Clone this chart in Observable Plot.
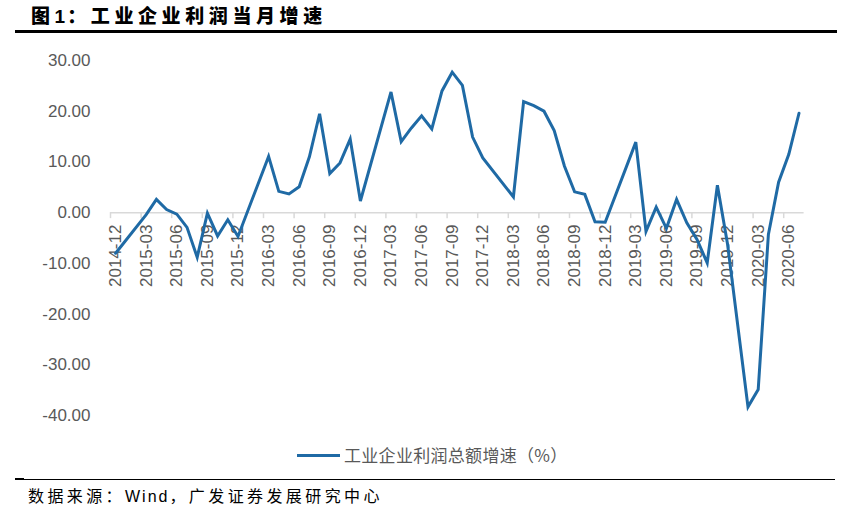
<!DOCTYPE html>
<html>
<head>
<meta charset="utf-8">
<script src="https://cdn.jsdelivr.net/npm/d3@7"></script>
<script src="https://cdn.jsdelivr.net/npm/@observablehq/plot@0.6"></script>
<style>
  html, body { margin: 0; padding: 0; background: #fff; }
  body { width: 861px; height: 518px; position: relative; overflow: hidden; font-family: "Liberation Sans", Arial, sans-serif; }
  #title { position: absolute; left: 31px; top: 3px; font-family: "Noto Sans CJK SC", sans-serif; font-weight: 900; font-size: 19px; letter-spacing: 4.6px; color: #000; line-height: 24px; white-space: nowrap; }
  #title .num { font-family: "Liberation Sans", Arial, sans-serif; font-weight: bold; letter-spacing: 2px; }
  #rule-top { position: absolute; left: 15px; top: 30px; width: 822px; height: 2.5px; background: #000; }
  #chart { position: absolute; left: 0; top: 40px; }
  #legend { position: absolute; left: 297px; top: 443px; height: 24px; display: flex; align-items: center; white-space: nowrap; }
  #legend .sw { width: 43px; height: 3px; background: #1f6aa5; margin-right: 4px; }
  #legend .lab { font-family: "Noto Sans CJK SC", sans-serif; font-size: 17px; letter-spacing: 0.3px; color: #595959; line-height: 24px; }
  #rule-bot { position: absolute; left: 15px; top: 479px; width: 820px; height: 1px; background: #000; }
  #rule-bot2 { position: absolute; left: 15px; top: 478px; width: 9px; height: 2px; background: #000; }
  #source { position: absolute; left: 28px; top: 484px; font-family: "Noto Sans CJK SC", sans-serif; font-size: 16px; letter-spacing: 3.4px; color: #000; line-height: 22px; white-space: nowrap; }
  #source .lat { font-family: "Liberation Sans", Arial, sans-serif; letter-spacing: 2px; }
</style>
</head>
<body>
<div id="title">图<span class="num">1</span>：工业企业利润当月增速</div>
<div id="rule-top"></div>
<div id="chart"></div>
<div id="legend"><div class="sw"></div><div class="lab">工业企业利润总额增速（%）</div></div>
<div id="rule-bot2"></div>
<div id="rule-bot"></div>
<div id="source">数据来源：<span class="lat">Wind</span>，广发证券发展研究中心</div>
<script>
// Months with data (Jan / Jan-Feb releases absent except 2020-02)
const months = [
  "2014-12",
  "2015-03","2015-04","2015-05","2015-06","2015-07","2015-08","2015-09","2015-10","2015-11","2015-12",
  "2016-03","2016-04","2016-05","2016-06","2016-07","2016-08","2016-09","2016-10","2016-11","2016-12",
  "2017-03","2017-04","2017-05","2017-06","2017-07","2017-08","2017-09","2017-10","2017-11","2017-12",
  "2018-03","2018-04","2018-05","2018-06","2018-07","2018-08","2018-09","2018-10","2018-11","2018-12",
  "2019-03","2019-04","2019-05","2019-06","2019-07","2019-08","2019-09","2019-10","2019-11","2019-12",
  "2020-02","2020-03","2020-04","2020-05","2020-06","2020-07"
];
const profitGrowth = [
  -8.0,
  -0.4, 2.6, 0.6, -0.3, -2.9, -8.8, -0.1, -4.6, -1.4, -4.7,
  11.1, 4.2, 3.7, 5.1, 11.0, 19.5, 7.7, 9.8, 14.5, 2.3,
  23.8, 14.0, 16.7, 19.1, 16.5, 24.0, 27.7, 25.1, 14.9, 10.8,
  3.1, 21.9, 21.1, 20.0, 16.2, 9.2, 4.1, 3.6, -1.8, -1.9,
  13.9, -3.7, 1.1, -3.1, 2.6, -2.0, -5.3, -9.9, 5.4, -6.3,
  -38.3, -34.9, -4.3, 6.0, 11.5, 19.6
];
const tickLabels = [
  "2014-12","2015-03","2015-06","2015-09","2015-12","2016-03","2016-06","2016-09","2016-12",
  "2017-03","2017-06","2017-09","2017-12","2018-03","2018-06","2018-09","2018-12",
  "2019-03","2019-06","2019-09","2019-12","2020-03","2020-06"
];
const yTicks = [30, 20, 10, 0, -10, -20, -30, -40];
const axisStart = "2014-12";
const axisEnd = "2020-08";

const monthIndex = s => {
  const [y, m] = s.split("-").map(Number);
  const [y0, m0] = axisStart.split("-").map(Number);
  return (y - y0) * 12 + (m - m0);
};

const data = months.map((m, i) => ({month: m, idx: monthIndex(m), value: profitGrowth[i]}));
const ticks = tickLabels.map(t => ({label: t, idx: monthIndex(t)}));

const W = 861, H = 400;
const plot = Plot.plot({
  width: W,
  height: H,
  marginTop: 20,
  marginBottom: 25,
  marginLeft: 110,
  marginRight: 57.4,
  style: {fontFamily: "'Liberation Sans', Arial, sans-serif", color: "#595959", background: "#fff"},
  x: {domain: [0, monthIndex(axisEnd)], axis: null},
  y: {domain: [-40, 30], axis: null},
  marks: [
    Plot.axisY({ticks: yTicks, tickSize: 0, tickPadding: 20, tickFormat: d => d.toFixed(2), fontSize: 17, color: "#595959", label: null}),
    Plot.ruleY([0], {stroke: "#d9d9d9", strokeWidth: 1.5}),
    Plot.ruleX(ticks, {x: "idx", y1: 0, y2: 0, insetBottom: -6, stroke: "#d9d9d9", strokeWidth: 1.5}),
    Plot.text(ticks, {x: d => d.idx + 0.5, y: 0, text: "label", rotate: -90, textAnchor: "end", dy: 12, fontSize: 17, fill: "#595959"}),
    Plot.lineY(data, {x: d => d.idx + 0.5, y: "value", stroke: "#1f6aa5", strokeWidth: 3, strokeLinejoin: "miter", strokeMiterlimit: 4})
  ]
});
document.getElementById("chart").appendChild(plot);
</script>
</body>
</html>
